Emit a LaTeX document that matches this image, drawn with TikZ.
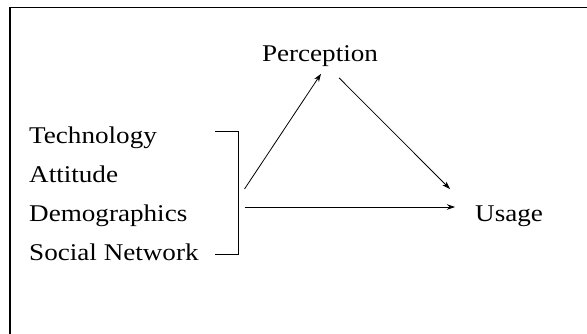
\documentclass[tikz,border=0pt]{standalone}
\usepackage{fontspec}
\setmainfont[FakeStretch=1.13]{Liberation Serif}
\usetikzlibrary{arrows.meta}
\tikzset{
  factor/.style={anchor=base west,inner sep=0pt,font=\fontsize{24}{28}\selectfont},
  outcome/.style={inner sep=0pt,font=\fontsize{24}{28}\selectfont},
  link/.style={line width=0.8pt,-{Stealth[length=8pt,width=5.5pt]}}
}
\begin{document}
\begin{tikzpicture}[x=1pt,y=-1pt]
      \useasboundingbox (0,0) rectangle (587,334);
      \draw[line width=1.2pt] (10,334) -- (10,7.5) -- (587,7.5);
      \draw
        (29,144) node[factor] (tech){Technology}
        (29,183) node[factor] (att){Attitude}
        (29,222) node[factor] (demo){Demographics}
        (29,261) node[factor] (soc){Social Network}
        (320,62) node[outcome,anchor=base] (perc){Perception}
        (475,222) node[outcome,anchor=base west] (use){Usage};
      \coordinate (brtop) at (215,131);
      \coordinate (brbot) at (215,254);
      \coordinate (src1) at (244.5,189);
      \coordinate (src2) at (244.5,207);
      \draw[line width=0.8pt] (brtop) -- (238.5,131) -- (238.5,254) -- (brbot);
      \begin{scope}[link]
        \draw (src1) to ([xshift=1pt,yshift=-6.5pt]perc.south);
        \draw ([xshift=19pt,yshift=-10.5pt]perc.south) to ([xshift=-25pt,yshift=33pt]use.base west);
        \draw (src2) to ([xshift=-20pt]src2 -| use.west);
      \end{scope}
    \end{tikzpicture}
\end{document}
